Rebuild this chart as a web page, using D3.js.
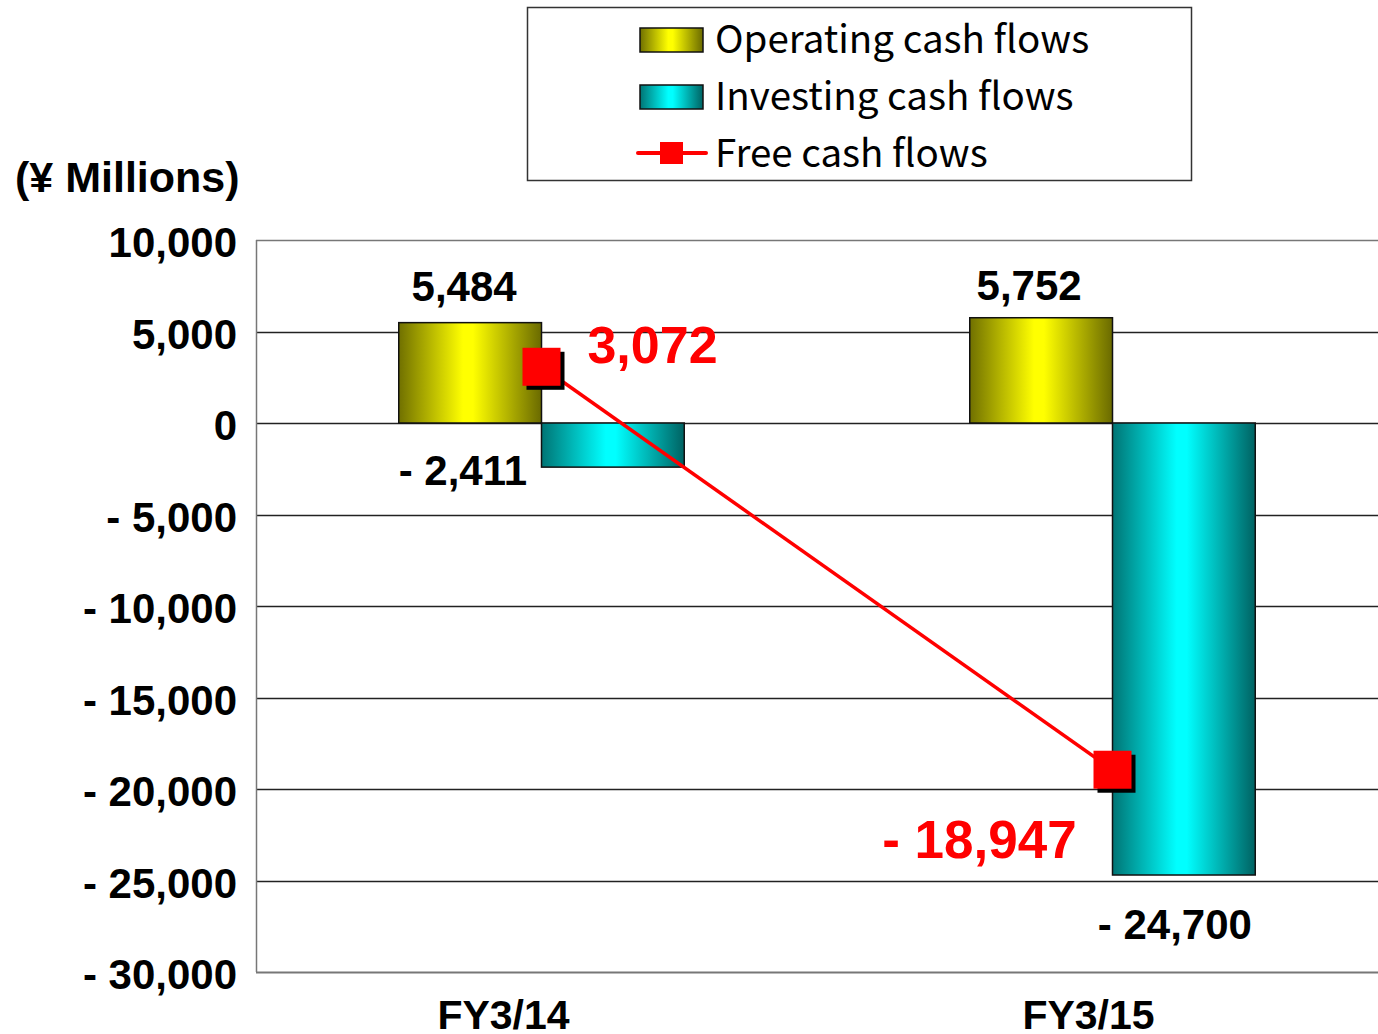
<!DOCTYPE html>
<html>
<head>
<meta charset="utf-8">
<script src="https://cdn.jsdelivr.net/npm/d3@7"></script>
<style>
  body { margin: 0; background: #fff; }
  svg { display: block; }
  .bold { font-family: "Liberation Sans", Arial, sans-serif; font-weight: bold; }
</style>
</head>
<body>
<script>
// chart data
var categories = ["FY3/14", "FY3/15"];
var operating = [5484, 5752];
var investing = [-2411, -24700];
var freeCash = [3072, -18947];
var yTicks = [10000, 5000, 0, -5000, -10000, -15000, -20000, -25000, -30000];
var legendLabels = ["Operating cash flows", "Investing cash flows", "Free cash flows"];

var w = 1378, h = 1034;
var plotLeft = 256, plotTop = 240, plotBottom = 972;

var fmt = function(d){
  return d < 0 ? "- " + d3.format(",")(-d) : d3.format(",")(d);
};

var svg = d3.select("body").append("svg")
  .attr("width", w)
  .attr("height", h);

var defs = svg.append("defs");

// bar gradients (dark - bright - dark)
function grad(id, dark1, bright, dark2){
  var g = defs.append("linearGradient").attr("id", id)
    .attr("x1", "0%").attr("x2", "100%").attr("y1", "0%").attr("y2", "0%");
  g.append("stop").attr("offset", "0%").attr("stop-color", dark1);
  g.append("stop").attr("offset", "45%").attr("stop-color", bright);
  g.append("stop").attr("offset", "52%").attr("stop-color", bright);
  g.append("stop").attr("offset", "100%").attr("stop-color", dark2);
}
grad("gOp", "#707000", "#ffff00", "#6a6a00");
grad("gInv", "#007474", "#00ffff", "#006262");

var yScale = d3.scaleLinear()
  .domain([-30000, 10000])
  .range([plotBottom, plotTop]);

var xScale = d3.scaleBand()
  .domain(categories)
  .range([plotLeft, plotLeft + 2 * 571])
  .paddingInner(0.5)
  .paddingOuter(0.25);

var xSub = d3.scaleBand()
  .domain(["op", "inv"])
  .range([0, xScale.bandwidth()]);

// gridlines
svg.append("g")
  .selectAll("line")
  .data(yTicks)
  .enter()
  .append("line")
  .attr("x1", plotLeft)
  .attr("x2", w)
  .attr("y1", d => Math.round(yScale(d)) + 0.5)
  .attr("y2", d => Math.round(yScale(d)) + 0.5)
  .attr("stroke", (d) => (d == 10000 || d == -30000) ? "#777" : "#222")
  .attr("stroke-width", (d) => d == -30000 ? 2 : 1.3);

// left axis line
svg.append("line")
  .attr("x1", plotLeft + 0.5).attr("x2", plotLeft + 0.5)
  .attr("y1", plotTop).attr("y2", plotBottom)
  .attr("stroke", "#777")
  .attr("stroke-width", 1.5);

// y tick labels
svg.append("g")
  .selectAll("text")
  .data(yTicks)
  .enter()
  .append("text")
  .attr("class", "bold")
  .attr("x", 237)
  .attr("y", d => yScale(d) + 17)
  .attr("text-anchor", "end")
  .attr("font-size", 42)
  .text(fmt);

svg.append("text")
  .attr("class", "bold")
  .attr("x", 15)
  .attr("y", 192)
  .attr("font-size", 43)
  .text("(¥ Millions)");

// operating bars
svg.append("g")
  .selectAll("rect")
  .data(operating)
  .enter()
  .append("rect")
  .attr("x", (d, i) => xScale(categories[i]) + xSub("op"))
  .attr("y", d => yScale(Math.max(0, d)))
  .attr("width", xSub.bandwidth())
  .attr("height", d => Math.abs(yScale(d) - yScale(0)))
  .attr("fill", "url(#gOp)")
  .attr("stroke", "#111")
  .attr("stroke-width", 1.5);

// investing bars
svg.append("g")
  .selectAll("rect")
  .data(investing)
  .enter()
  .append("rect")
  .attr("x", (d, i) => xScale(categories[i]) + xSub("inv"))
  .attr("y", d => yScale(Math.max(0, d)))
  .attr("width", xSub.bandwidth())
  .attr("height", d => Math.abs(yScale(d) - yScale(0)))
  .attr("fill", "url(#gInv)")
  .attr("stroke", "#111")
  .attr("stroke-width", 1.5);

// free cash flow line
var fx = (d, i) => xScale(categories[i]) + xScale.bandwidth() / 2;
var line = d3.line()
  .x(fx)
  .y(d => yScale(d));

svg.append("path")
  .datum(freeCash)
  .attr("d", line)
  .attr("fill", "none")
  .attr("stroke", "#ff0000")
  .attr("stroke-width", 3.5);

var ms = 38;
// marker shadow
svg.append("g")
  .selectAll("rect")
  .data(freeCash)
  .enter()
  .append("rect")
  .attr("x", (d, i) => fx(d, i) - ms / 2 + 4)
  .attr("y", d => yScale(d) - ms / 2 + 4)
  .attr("width", ms)
  .attr("height", ms)
  .attr("fill", "#000");
svg.append("g")
  .selectAll("rect")
  .data(freeCash)
  .enter()
  .append("rect")
  .attr("x", (d, i) => fx(d, i) - ms / 2)
  .attr("y", d => yScale(d) - ms / 2)
  .attr("width", ms)
  .attr("height", ms)
  .attr("fill", "#ff0000");

// value labels
var opLabelX = (d, i) => xScale(categories[i]) + xSub("op") + xSub.bandwidth() / 2;
var invLabelX = (d, i) => xScale(categories[i]) + xSub("inv") + xSub.bandwidth() / 2;

svg.append("g")
  .selectAll("text")
  .data(operating)
  .enter()
  .append("text")
  .attr("class", "bold")
  .attr("x", (d, i) => opLabelX(d, i) - 6 - i * 6)
  .attr("y", (d, i) => yScale(d) - 22 + i * 4)
  .attr("text-anchor", "middle")
  .attr("font-size", 42)
  .text(fmt);

// investing labels: first sits left of its bar, second below
svg.append("g")
  .selectAll("text")
  .data(investing)
  .enter()
  .append("text")
  .attr("class", "bold")
  .attr("x", (d, i) => i == 0 ? invLabelX(d, i) - 150 : invLabelX(d, i) - 9)
  .attr("y", (d, i) => i == 0 ? yScale(0) + 62 : yScale(d) + 64)
  .attr("text-anchor", "middle")
  .attr("font-size", 42)
  .text(fmt);

// free cash labels
svg.append("g")
  .selectAll("text")
  .data(freeCash)
  .enter()
  .append("text")
  .attr("class", "bold")
  .attr("x", (d, i) => i == 0 ? fx(d, i) + 111 : fx(d, i) - 133)
  .attr("y", (d, i) => i == 0 ? yScale(d) - 4 : yScale(d) + 88)
  .attr("text-anchor", "middle")
  .attr("font-size", (d, i) => i == 0 ? 52 : 53)
  .attr("fill", "#ff0000")
  .text(fmt);

// category labels
svg.append("g")
  .selectAll("text")
  .data(categories)
  .enter()
  .append("text")
  .attr("class", "bold")
  .attr("x", (d, i) => xScale(d) + xScale.bandwidth() / 2 - 38 + i * 14)
  .attr("y", 1029)
  .attr("text-anchor", "middle")
  .attr("font-size", 41)
  .text(d => d);

// legend
var legend = svg.append("g");
legend.append("rect")
  .attr("x", 527.5).attr("y", 7.5)
  .attr("width", 664).attr("height", 173)
  .attr("fill", "#fff")
  .attr("stroke", "#333")
  .attr("stroke-width", 1.5);

var fills = ["url(#gOp)", "url(#gInv)"];
legend.selectAll(".sw")
  .data(fills)
  .enter()
  .append("rect")
  .attr("x", 640).attr("y", (d, i) => 28 + i * 57)
  .attr("width", 63).attr("height", 24)
  .attr("fill", d => d)
  .attr("stroke", "#111")
  .attr("stroke-width", 1.5);

legend.append("line")
  .attr("x1", 638).attr("x2", 706)
  .attr("y1", 153).attr("y2", 153)
  .attr("stroke", "#ff0000")
  .attr("stroke-width", 4)
  .attr("stroke-linecap", "round");
legend.append("rect")
  .attr("x", 660).attr("y", 142)
  .attr("width", 23).attr("height", 22)
  .attr("fill", "#ff0000");

legend.selectAll("text")
  .data(legendLabels)
  .enter()
  .append("text")
  .attr("x", 715)
  .attr("y", (d, i) => 53 + i * 57)
  .attr("font-family", "'Noto Sans CJK JP', sans-serif")
  .attr("font-size", 38.5)
  .attr("fill", "#000")
  .text(d => d);
</script>
</body>
</html>
